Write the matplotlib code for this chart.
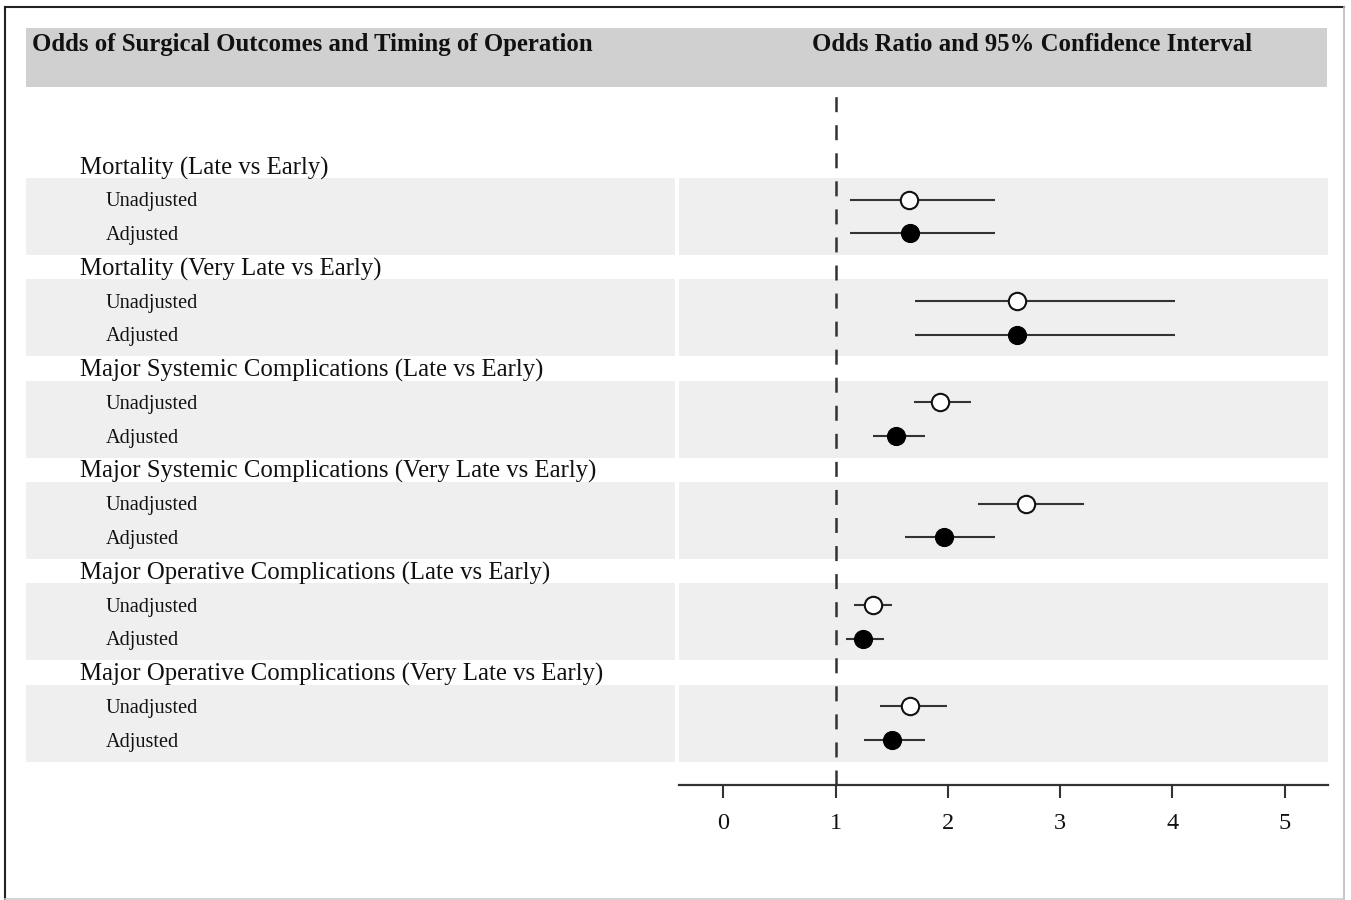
import matplotlib
matplotlib.use("Agg")
import matplotlib.pyplot as plt
from matplotlib.patches import Rectangle
from matplotlib.lines import Line2D

plt.rcParams['font.family'] = ['Liberation Serif', 'DejaVu Serif']
plt.rcParams['lines.scale_dashes'] = False

# ---------------- data ----------------
groups = [
    "Mortality (Late vs Early)",
    "Mortality (Very Late vs Early)",
    "Major Systemic Complications (Late vs Early)",
    "Major Systemic Complications (Very Late vs Early)",
    "Major Operative Complications (Late vs Early)",
    "Major Operative Complications (Very Late vs Early)",
]
row_labels = ["Unadjusted", "Adjusted"]
unadj_or = [1.65, 2.62, 1.93, 2.70, 1.33, 1.66]
unadj_lo = [1.13, 1.71, 1.70, 2.27, 1.16, 1.40]
unadj_hi = [2.42, 4.02, 2.21, 3.21, 1.50, 1.99]
adj_or = [1.66, 2.62, 1.54, 1.97, 1.24, 1.50]
adj_lo = [1.13, 1.71, 1.33, 1.62, 1.09, 1.25]
adj_hi = [2.42, 4.02, 1.80, 2.42, 1.43, 1.80]
xticks = [0, 1, 2, 3, 4, 5]
ref_line = 1
header_left = "Odds of Surgical Outcomes and Timing of Operation"
header_right = "Odds Ratio and 95% Confidence Interval"

W, H = 1351, 900
fig = plt.figure(figsize=(W / 100, H / 100), dpi=100)

def fx(px):
    return px / W

def fy(py):
    return 1 - py / H

TEXT = "#111111"
LINE = "#333333"
BAND = "#efefef"

# y scale: row index units
ytop, ybot = -2.16, 18.33
ax_top_px, ax_bot_px = 93, 785

# right (plot) axes
axr = fig.add_axes([fx(679), fy(ax_bot_px), fx(1328) - fx(679), fy(ax_top_px) - fy(ax_bot_px)])
# left (label) axes
axl = fig.add_axes([fx(26), fy(ax_bot_px), fx(675) - fx(26), fy(ax_top_px) - fy(ax_bot_px)])

for ax in (axl, axr):
    ax.set_ylim(ybot, ytop)
    for s in ax.spines.values():
        s.set_visible(False)
    ax.set_yticks([])
    ax.patch.set_alpha(0)

axl.set_xlim(0, 1)
axl.set_xticks([])

toff = 0.06  # small vertical nudge for text baseline
for g in range(len(groups)):
    base = 3 * g
    for ax in (axl, axr):
        ax.axhspan(base + 0.355, base + 2.64, color=BAND, lw=0, zorder=0)
    axl.text(0.083, base + toff, groups[g], fontsize=17.8, color=TEXT, va='center', ha='left')
    for r, lab in enumerate(row_labels):
        axl.text(0.123, base + 1 + r + toff, lab, fontsize=14.6, color=TEXT,
                 va='center', ha='left')

    # unadjusted
    yu = base + 1
    axr.plot([unadj_lo[g], unadj_hi[g]], [yu, yu], color=LINE, lw=1.5, zorder=2,
             solid_capstyle='butt')
    axr.plot([unadj_or[g]], [yu], marker='o', ms=12.5, mfc='white', mec='#111111',
             mew=1.5, zorder=3)
    # adjusted
    ya = base + 2
    axr.plot([adj_lo[g], adj_hi[g]], [ya, ya], color=LINE, lw=1.5, zorder=2,
             solid_capstyle='butt')
    axr.plot([adj_or[g]], [ya], marker='o', ms=13, mfc='black', mec='black',
             mew=0.8, zorder=3)

axr.axvline(ref_line, color=LINE, lw=1.8, dashes=(10.8, 9.4), zorder=1)

axr.set_xlim(-0.394, 5.385)
axr.spines['bottom'].set_visible(True)
axr.spines['bottom'].set_color(LINE)
axr.spines['bottom'].set_linewidth(1.6)
axr.set_xticks(xticks)
axr.set_xticklabels([str(t) for t in xticks])
axr.tick_params(axis='x', direction='out', length=9.5, width=1.5, color=LINE,
                labelsize=17.5, labelcolor=TEXT, pad=11)

# header band
fig.add_artist(Rectangle((fx(26), fy(87)), fx(1327) - fx(26), fy(28) - fy(87),
                         transform=fig.transFigure, facecolor='#d0d0d0', lw=0, zorder=0))
fig.text(fx(32), fy(44.5), header_left, fontsize=17.8, fontweight='bold', color=TEXT,
         ha='left', va='center')
fig.text(fx(812), fy(44.5), header_right, fontsize=17.8, fontweight='bold', color=TEXT,
         ha='left', va='center')

# figure border
fig.add_artist(Line2D([fx(5), fx(1344)], [fy(7), fy(7)], transform=fig.transFigure,
                      color='#222222', lw=1.5))
fig.add_artist(Line2D([fx(5), fx(5)], [fy(7), fy(899)], transform=fig.transFigure,
                      color='#222222', lw=1.5))
fig.add_artist(Line2D([fx(1344), fx(1344)], [fy(7), fy(899)], transform=fig.transFigure,
                      color='#bbbbbb', lw=1.2))
fig.add_artist(Line2D([fx(5), fx(1344)], [fy(899), fy(899)], transform=fig.transFigure,
                      color='#cccccc', lw=1.2))

fig.savefig("out.png", dpi=100)
